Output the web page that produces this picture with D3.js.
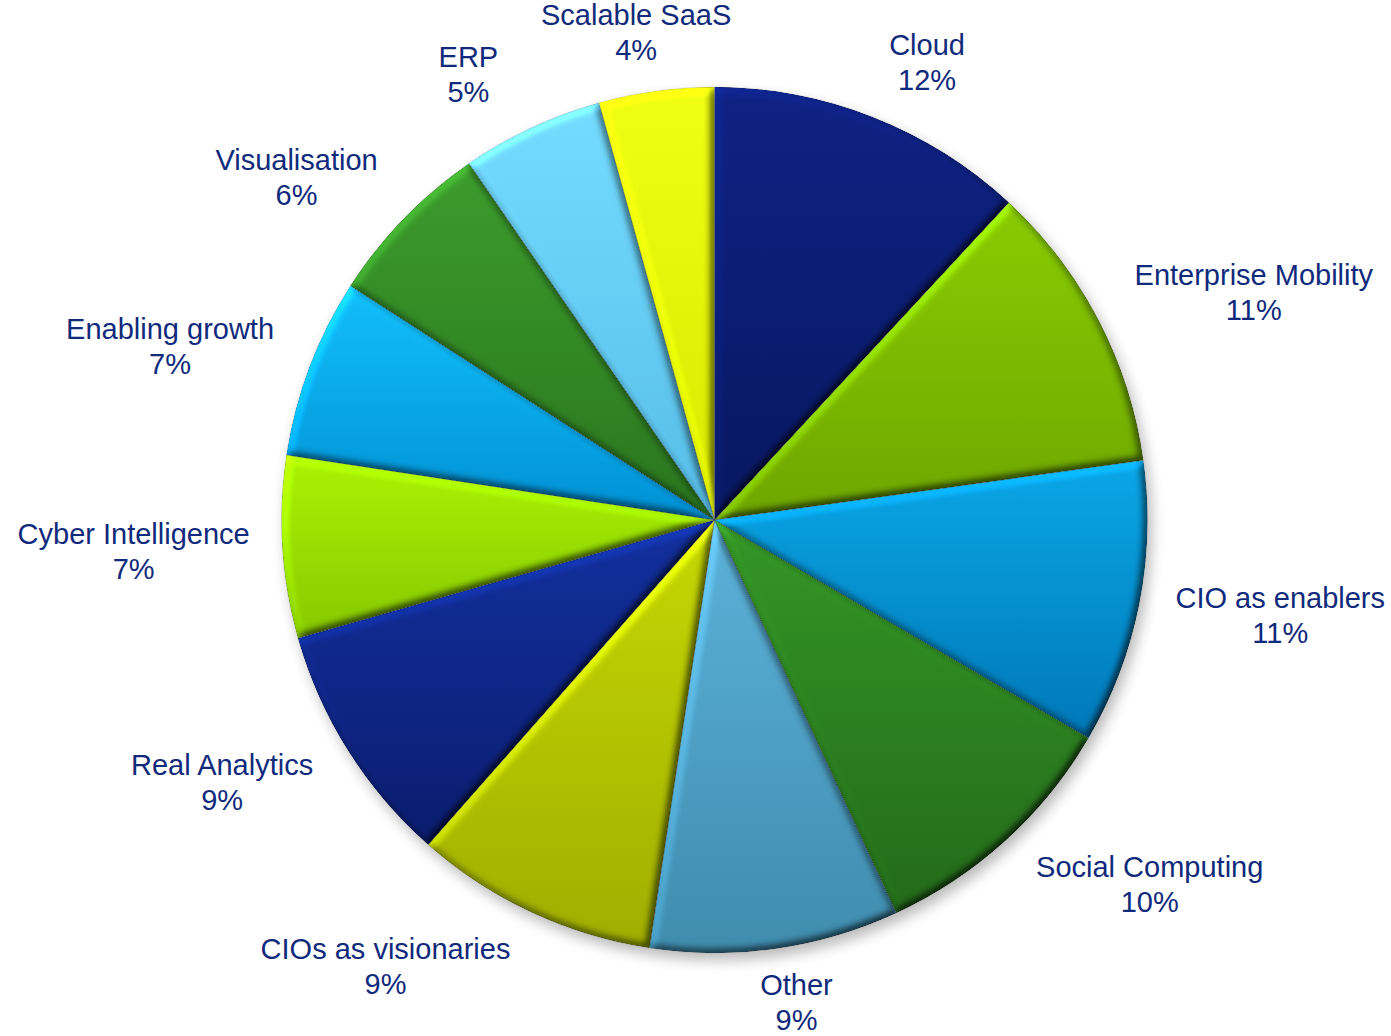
<!DOCTYPE html>
<html><head><meta charset="utf-8">
<script src="https://cdn.jsdelivr.net/npm/d3@7"></script>
<style>html,body{margin:0;padding:0;background:#fff;} svg{display:block;}</style>
</head><body>
<svg id="chart" width="1391" height="1036"></svg>
<script>
const categories = ["Cloud","Enterprise Mobility","CIO as enablers","Social Computing","Other","CIOs as visionaries","Real Analytics","Cyber Intelligence","Enabling growth","Visualisation","ERP","Scalable SaaS"];
const shares = [11.9,10.9,10.6,9.7,9.3,9.1,9.1,6.8,6.7,6.3,5.3,4.3];
const topColors = ["#0e2284","#88cc02","#0aa6e6","#349626","#5cb2da","#c6d804","#12309e","#aaf404","#12bff8","#3c9c2c","#74dcff","#f0ff12"];
const bottomColors = ["#081760","#6ea600","#0078b8","#236a19","#3f8cae","#9fae00","#0a1c6e","#86c800","#0090d4","#2a761e","#56bce6","#d8e800"];

const W = 1391, H = 1036;
const cx = 714.5, cy = 520, R = 433;
const svg = d3.select("#chart");
const defs = svg.append("defs");

// bevel filter
const f = defs.append("filter").attr("id","bevel").attr("x","-5%").attr("y","-5%").attr("width","110%").attr("height","110%")
  .attr("color-interpolation-filters","sRGB");
f.append("feGaussianBlur").attr("in","SourceAlpha").attr("stdDeviation",4).attr("result","blur");
const dl = f.append("feDiffuseLighting").attr("in","blur").attr("surfaceScale",4).attr("diffuseConstant",1)
  .attr("lighting-color","#fff").attr("result","light");
dl.append("feDistantLight").attr("azimuth",225).attr("elevation",55);
f.append("feComposite").attr("in","light").attr("in2","SourceAlpha").attr("operator","in").attr("result","lightIn");
f.append("feComposite").attr("in","SourceGraphic").attr("in2","lightIn").attr("operator","arithmetic")
  .attr("k1",1.22).attr("k2",0).attr("k3",0).attr("k4",0);

// shadow filter
const sf = defs.append("filter").attr("id","shadow").attr("x","-10%").attr("y","-10%").attr("width","120%").attr("height","120%");
sf.append("feGaussianBlur").attr("stdDeviation",7);

categories.forEach((c,i)=>{
  const g = defs.append("linearGradient").attr("id","grad"+i).attr("x1",0).attr("y1",0).attr("x2",0).attr("y2",1);
  g.append("stop").attr("offset","0%").attr("stop-color",topColors[i]);
  g.append("stop").attr("offset","100%").attr("stop-color",bottomColors[i]);
});

const data = categories.map((c,i)=>({name:c, value:shares[i], i}));
const pie = d3.pie().sort(null).value(d=>d.value);
const arcs = pie(data);
const arc = d3.arc().innerRadius(0).outerRadius(R);

const root = svg.append("g").attr("transform",`translate(${cx},${cy})`);
root.append("circle").attr("cx",4).attr("cy",7).attr("r",R).attr("fill","#000").attr("opacity",0.28).attr("filter","url(#shadow)");

root.selectAll("path.slice").data(arcs).enter().append("path")
  .attr("class","slice")
  .attr("d",arc)
  .attr("fill",d=>`url(#grad${d.data.i})`)
  .attr("filter","url(#bevel)");
root.selectAll("path.edge").data(arcs).enter().append("path")
  .attr("class","edge")
  .attr("d",arc)
  .attr("fill","none")
  .attr("stroke","rgba(0,0,0,0.12)")
  .attr("stroke-width",0.7);

// labels
const fs = 29, lh = 35, capH = 0.716*fs;
const ax = 582, by = 492, minClear = 460, clear = 465, hh = 28;
const lg = svg.append("g").attr("font-family","'Liberation Sans', Arial, sans-serif").attr("font-size",fs).attr("fill","#102a7c");
arcs.forEach(d=>{
  const th = (d.startAngle+d.endAngle)/2;
  let x = cx + ax*Math.sin(th), y = cy - by*Math.cos(th);
  const g = lg.append("g");
  const b1 = -hh + capH;
  const t1 = g.append("text").attr("text-anchor","middle").attr("x",0).attr("y",b1).text(d.data.name);
  const t2 = g.append("text").attr("text-anchor","middle").attr("x",0).attr("y",b1+lh).text(Math.round(d.data.value)+"%");
  const w = Math.max(t1.node().getComputedTextLength(), t2.node().getComputedTextLength());
  const straddles = (x - w/2 < cx) && (x + w/2 > cx);
  const nx = Math.max(x-w/2, Math.min(cx, x+w/2));
  const ny = Math.max(y-hh, Math.min(cy, y+hh));
  const dist = Math.hypot(nx-cx, ny-cy);
  if (!straddles && dist < minClear) {
    const dy = ny-cy;
    const req = Math.sqrt(Math.max(0, clear*clear - dy*dy));
    if (Math.sin(th) > 0) x = cx + req + w/2; else x = cx - req - w/2;
  }
  x = Math.min(W - 6 - w/2, Math.max(6 + w/2, x));
  y = Math.min(H - 6 - hh, Math.max(hh + 4, y));
  g.attr("transform",`translate(${x},${y})`);
});
</script>
</body></html>
